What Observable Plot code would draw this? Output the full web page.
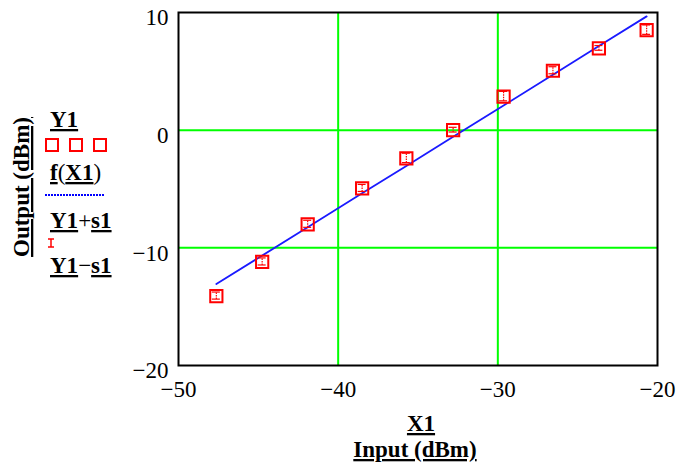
<!DOCTYPE html>
<html>
<head>
<meta charset="utf-8">
<script src="https://cdn.jsdelivr.net/npm/d3@7"></script>
<script src="https://cdn.jsdelivr.net/npm/@observablehq/plot@0.6"></script>
<style>
  html, body { margin: 0; padding: 0; background: white; }
  #chart svg { display: block; }
</style>
</head>
<body>
<div id="chart"></div>
<script>
// Data
const X1  = [-47.63, -44.76, -41.91, -38.50, -35.73, -32.80, -29.64, -26.55, -23.67, -20.68];
const Y1  = [-14.10, -11.20, -8.00, -4.95, -2.40, 0.00, 2.85, 5.05, 6.95, 8.50];
const s1  = [0.30, 0.30, 0.30, 0.30, 0.40, 0.20, 0.40, 0.30, 0.20, 0.40];
const fX1 = [-13.08, -10.66, -8.25, -5.37, -3.04, -0.56, 2.10, 4.71, 7.15, 9.67];
const xTicks = [-50, -40, -30, -20];
const yTicks = [-20, -10, 0, 10];
const xGrid = [-40, -30];
const yGrid = [-10, 0];

const rows = X1.map((x, i) => ({x, y: Y1[i], s: s1[i], f: fX1[i]}));

const font = "'Liberation Serif', 'Times New Roman', serif";

const plot = Plot.plot({
  width: 681,
  height: 469,
  marginLeft: 178,
  marginRight: 24,
  marginTop: 12,
  marginBottom: 104,
  style: {fontFamily: font, fontSize: "23px", color: "black", background: "white"},
  x: {type: "linear", domain: [-50, -20]},
  y: {type: "linear", domain: [-20, 10]},
  marks: [
    Plot.ruleX(xGrid, {stroke: "#00ff00", strokeWidth: 2}),
    Plot.ruleY(yGrid, {stroke: "#00ff00", strokeWidth: 2}),
    Plot.frame({stroke: "black", strokeWidth: 2}),
    Plot.line(rows, {x: "x", y: "f", stroke: "#1a1aff", strokeWidth: 1.8}),
    Plot.ruleX(rows, {x: "x", y1: d => d.y - d.s, y2: d => d.y + d.s, stroke: "#ff0000", strokeWidth: 1.2, strokeDasharray: "1.5,1"}),
    Plot.dot(rows, {x: "x", y: "y", symbol: "square", r: 6.9, stroke: "#ff0000", strokeWidth: 2, fill: "none"}),
    Plot.axisX(xTicks, {tickSize: 0, tickPadding: 15, fontSize: 23, label: null, fill: "black"}),
    Plot.axisY(yTicks, {tickSize: 0, tickPadding: 10, fontSize: 23, label: null, fill: "black", dy: 5.5})
  ]
});

document.getElementById("chart").appendChild(plot);

// Decorations: legend, error-bar caps and axis titles
const svg = d3.select(plot);
const g = svg.append("g").attr("font-family", font).attr("fill", "black");

function label(x, y, parts, anchor, size) {
  const t = g.append("text").attr("x", x).attr("y", y).attr("font-size", size || 23)
    .attr("text-anchor", anchor || "start");
  parts.forEach(([s, bold, ul]) => {
    t.append("tspan").text(s)
      .attr("font-weight", bold ? "bold" : "normal")
      .attr("text-decoration", ul ? "underline" : null);
  });
  return t;
}

// error-bar caps positioned through the plot scales
const sx = plot.scale("x"), sy = plot.scale("y");
rows.forEach(d => {
  const px = sx.apply(d.x);
  [d.y - d.s, d.y + d.s].forEach(v => {
    const py = sy.apply(v);
    g.append("line").attr("x1", px - 4).attr("x2", px + 4).attr("y1", py).attr("y2", py)
      .attr("stroke", "#ff0000").attr("stroke-width", 1.2);
  });
});

// Legend
label(50, 127, [["Y1", true, true]]);
[52, 76, 100].forEach(cx => {
  g.append("rect").attr("x", cx - 6).attr("y", 139).attr("width", 12).attr("height", 12)
    .attr("fill", "none").attr("stroke", "#ff0000").attr("stroke-width", 2);
});
label(50, 180, [["f", true, true], ["(", false, false], ["X1", true, true], [")", false, false]]);
g.append("line").attr("x1", 45).attr("x2", 105).attr("y1", 195).attr("y2", 195)
  .attr("stroke", "#0000ff").attr("stroke-width", 2).attr("stroke-dasharray", "2,1");
label(50, 228, [["Y1", true, true], ["+", false, false], ["s1", true, true]]);
g.append("line").attr("x1", 51).attr("x2", 51).attr("y1", 239).attr("y2", 247)
  .attr("stroke", "#ff0000").attr("stroke-width", 1.5);
g.append("line").attr("x1", 48).attr("x2", 54).attr("y1", 239).attr("y2", 239)
  .attr("stroke", "#ff0000").attr("stroke-width", 1.5);
g.append("line").attr("x1", 48).attr("x2", 54).attr("y1", 247).attr("y2", 247)
  .attr("stroke", "#ff0000").attr("stroke-width", 1.5);
label(50, 273, [["Y1", true, true], ["−", false, false], ["s1", true, true]]);

// Y axis title (rotated)
g.append("text").attr("transform", "translate(29,187) rotate(-90)")
  .attr("text-anchor", "middle").attr("font-size", 23).attr("font-weight", "bold")
  .attr("text-decoration", "underline").text("Output (dBm)");

// X axis titles
label(421, 431, [["X1", true, true]], "middle");
label(415, 457, [["Input (dBm)", true, true]], "middle");
</script>
</body>
</html>
